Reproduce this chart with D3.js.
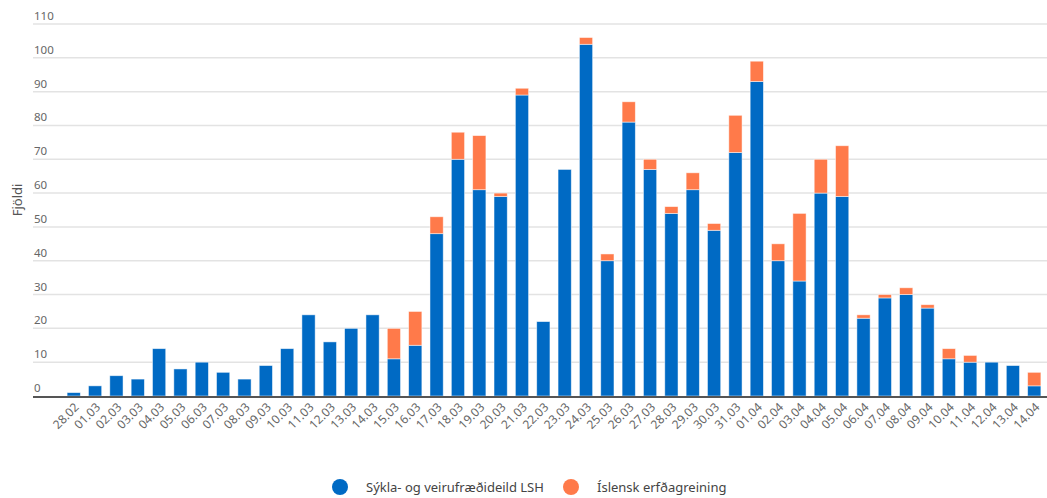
<!DOCTYPE html>
<meta charset="utf-8">
<script src="https://d3js.org/d3.v7.min.js"></script>
<style>
  body { margin: 0; background: #fff; }
  text { font-family: "Noto Sans", "Open Sans", sans-serif; }
</style>
<div id="chart"></div>
<script>
// data
const dates = ["28.02","01.03","02.03","03.03","04.03","05.03","06.03","07.03","08.03","09.03",
  "10.03","11.03","12.03","13.03","14.03","15.03","16.03","17.03","18.03","19.03","20.03",
  "21.03","22.03","23.03","24.03","25.03","26.03","27.03","28.03","29.03","30.03","31.03",
  "01.04","02.04","03.04","04.04","05.04","06.04","07.04","08.04","09.04","10.04","11.04",
  "12.04","13.04","14.04"];
const lsh = [1,3,6,5,14,8,10,7,5,9,14,24,16,20,24,11,15,48,70,61,59,89,22,67,104,40,81,67,54,61,
  49,72,93,40,34,60,59,23,29,30,26,11,10,10,9,3];
const de = [0,0,0,0,0,0,0,0,0,0,0,0,0,0,0,9,10,5,8,16,1,2,0,0,2,2,6,3,2,5,2,11,6,5,20,10,15,1,1,2,1,3,2,0,0,4];
const yTicks = [0,10,20,30,40,50,60,70,80,90,100,110];
const seriesNames = ["Sýkla- og veirufræðideild LSH", "Íslensk erfðagreining"];
const colors = ["#006ac4", "#ff7a4a"];

const W = 1047, H = 498;
const svg = d3.select("#chart").append("svg").attr("width", W).attr("height", H);

const left = 33, right = 1047;
const y = d3.scaleLinear().domain([0, 110]).range([396, 24]);
const x = d3.scaleBand().domain(dates).range([59, 1049]).padding(0.38);

// grid
svg.append("g").selectAll("line").data(yTicks.slice(1)).join("line")
  .attr("x1", left).attr("x2", right)
  .attr("y1", d => y(d)).attr("y2", d => y(d))
  .attr("stroke", "#e3e3e3").attr("stroke-width", 1.5);

svg.append("g").selectAll("text").data(yTicks).join("text")
  .attr("x", left + 1).attr("y", d => y(d) - 4)
  .style("font-size", "11.5px").attr("fill", "#666")
  .text(d => d);

// stacked bars
const rows = dates.map((d, i) => ({date: d, a: lsh[i], b: de[i]}));
const stack = d3.stack().keys(["a", "b"])(rows);
svg.append("g").selectAll("g").data(stack).join("g")
  .attr("fill", (d, i) => colors[i])
  .selectAll("rect").data(d => d.filter(s => s[1] > s[0])).join("rect")
  .attr("x", d => x(d.data.date))
  .attr("width", x.bandwidth())
  .attr("y", d => y(d[1]))
  .attr("height", d => y(d[0]) - y(d[1]))
  .attr("stroke", "rgba(255,255,255,0.6)").attr("stroke-width", 0.8);

// x axis line
svg.append("line").attr("x1", left).attr("x2", right)
  .attr("y1", 397).attr("y2", 397).attr("stroke", "#555").attr("stroke-width", 2);

svg.append("g").selectAll("text").data(dates).join("text")
  .attr("transform", d => `translate(${x(d) + x.bandwidth() / 2 + 6},${408}) rotate(-45)`)
  .attr("text-anchor", "end")
  .style("font-size", "12px").attr("fill", "#666")
  .text(d => d);

// y title
svg.append("text")
  .attr("transform", "translate(22,200) rotate(-90)")
  .attr("text-anchor", "middle")
  .style("font-size", "13px").attr("fill", "#555")
  .text("Fjöldi");

// legend
const lg = svg.append("g");
const lx = [340, 571];
seriesNames.forEach((n, i) => {
  lg.append("circle").attr("cx", lx[i]).attr("cy", 487).attr("r", 8).attr("fill", colors[i]);
  lg.append("text").attr("x", lx[i] + 26).attr("y", 492)
    .style("font-size", "13px").attr("fill", "#444").text(n);
});
</script>
